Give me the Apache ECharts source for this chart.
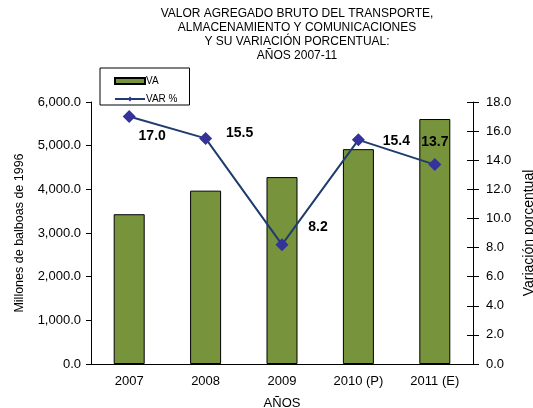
<!DOCTYPE html>
<html>
<head>
<meta charset="utf-8">
<script src="https://cdn.jsdelivr.net/npm/echarts@6/dist/echarts.min.js"></script>
<style>
html, body { margin: 0; padding: 0; background: #fff; }
#main { width: 533px; height: 408px; }
</style>
</head>
<body>
<div id="main"></div>
<script>
// Data
var years = ["2007", "2008", "2009", "2010 (P)", "2011 (E)"];
var vaValues = [3430, 3970, 4280, 4920, 5610];
var varValues = [17.0, 15.5, 8.2, 15.4, 13.7];
// label offsets for each VAR % point
var labelOffsets = [[23, 20], [34, -5], [36, -18], [38, 1], [0, -22]];

var font = "Liberation Sans, Arial, sans-serif";

function fmt1(v) {
    return v.toLocaleString("en-US", { minimumFractionDigits: 1, maximumFractionDigits: 1 });
}

var chart = echarts.init(document.getElementById("main"));

var lineData = [];
for (var i = 0; i < varValues.length; i++) {
    lineData.push({
        value: varValues[i],
        label: { offset: labelOffsets[i] }
    });
}

var tickStyle = { color: "#000" };

var option = {
    animation: false,
    textStyle: { fontFamily: font },
    title: {
        text: "VALOR AGREGADO BRUTO DEL TRANSPORTE,\nALMACENAMIENTO Y COMUNICACIONES\nY SU VARIACIÓN PORCENTUAL:\nAÑOS 2007-11",
        left: 292,
        top: 2,
        textAlign: "center",
        textStyle: { fontSize: 12, fontWeight: "normal", color: "#000", lineHeight: 14, fontFamily: font }
    },
    legend: {
        orient: "vertical",
        left: 100,
        top: 68,
        padding: [8, 12, 1, 14],
        borderColor: "#000",
        borderWidth: 1,
        itemWidth: 30,
        itemHeight: 6,
        itemGap: 8,
        textStyle: { fontSize: 10, color: "#000", fontFamily: font, padding: [0, 0, 0, -4] },
        data: [
            { name: "VA", icon: "rect" },
            { name: "VAR %" }
        ]
    },
    grid: { left: 91, right: 60, top: 102, bottom: 44, outerBoundsMode: "none" },
    xAxis: [
        {
            type: "category",
            data: years,
            name: "AÑOS",
            nameLocation: "middle",
            nameGap: 33,
            nameTextStyle: { fontSize: 13, color: "#000", fontFamily: font },
            axisLine: { lineStyle: { color: "#000" } },
            axisTick: { length: 4, lineStyle: tickStyle },
            axisLabel: { fontSize: 13, color: "#000", margin: 11, fontFamily: font }
        },
        {
            // inner half of the crossing ticks
            type: "category",
            data: years,
            position: "bottom",
            axisLine: { show: false },
            axisTick: { inside: true, length: 4, lineStyle: tickStyle },
            axisLabel: { show: false }
        }
    ],
    yAxis: [
        {
            type: "value",
            min: 0,
            max: 6000,
            interval: 1000,
            name: "Millones de balboas de 1996",
            nameLocation: "middle",
            nameGap: 65,
            nameTextStyle: { fontSize: 12.5, color: "#000", fontFamily: font },
            axisLine: { show: true, lineStyle: { color: "#000" } },
            axisTick: { show: true, length: 5, lineStyle: tickStyle },
            splitLine: { show: false },
            axisLabel: { fontSize: 13, color: "#000", margin: 10, fontFamily: font, formatter: fmt1 }
        },
        {
            type: "value",
            min: 0,
            max: 18,
            interval: 2,
            name: "Variación porcentual",
            nameLocation: "middle",
            nameGap: 48,
            nameRotate: 90,
            nameTextStyle: { fontSize: 14, color: "#000", fontFamily: font },
            axisLine: { show: true, lineStyle: { color: "#000" } },
            axisTick: { show: true, length: 6, lineStyle: tickStyle },
            splitLine: { show: false },
            axisLabel: { fontSize: 13, color: "#000", margin: 13, fontFamily: font, formatter: fmt1 }
        },
        {
            // inner half of the crossing ticks on the right axis
            type: "value",
            position: "right",
            min: 0,
            max: 18,
            interval: 2,
            axisLine: { show: false },
            axisTick: { show: true, inside: true, length: 6, lineStyle: tickStyle },
            splitLine: { show: false },
            axisLabel: { show: false }
        }
    ],
    series: [
        {
            name: "VA",
            type: "bar",
            data: vaValues,
            barWidth: 31,
            itemStyle: { color: "#77933c", borderColor: "#000", borderWidth: 1 }
        },
        {
            name: "VAR %",
            type: "line",
            yAxisIndex: 1,
            data: lineData,
            symbol: "diamond",
            symbolSize: 13,
            lineStyle: { color: "#1f3c6e", width: 2 },
            itemStyle: { color: "#333399" },
            label: {
                show: true,
                position: "inside",
                fontSize: 14,
                fontWeight: "bold",
                color: "#000",
                fontFamily: font,
                formatter: function (p) { return p.value.toFixed(1); }
            }
        }
    ]
};

chart.setOption(option);
</script>
</body>
</html>
